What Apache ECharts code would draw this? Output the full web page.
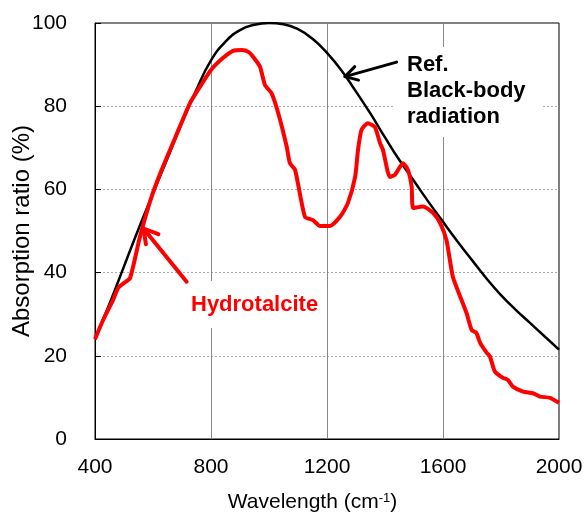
<!DOCTYPE html>
<html>
<head>
<meta charset="utf-8">
<script src="https://cdn.jsdelivr.net/npm/echarts@6/dist/echarts.min.js"></script>
<style>
  html, body { margin: 0; padding: 0; background: #fff; }
  #chart { width: 586px; height: 517px; }
</style>
</head>
<body>
<div id="chart"></div>
<script>
// reference black-body curve, read every 50 cm-1
var bbWave = [400, 450, 500, 550, 600, 650, 700, 750, 800, 850, 900, 950, 1000,
  1050, 1100, 1150, 1200, 1250, 1300, 1350, 1400, 1450, 1500, 1550, 1600,
  1650, 1700, 1750, 1800, 1850, 1900, 1950, 2000];
var bbValue = [24, 32.5, 41.5, 50.5, 59, 67.5, 76, 84, 91, 95.5, 98.3, 99.6, 100,
  99.7, 98.5, 96.2, 92.8, 88.6, 83.5, 78.2, 72.5, 67, 62, 57, 52.2,
  47.5, 43, 38.6, 34.6, 31.1, 27.9, 24.7, 21.5];

// hydrotalcite measured curve
var htWave = [400, 428, 462, 480, 500, 521, 555, 595, 630, 680, 728, 765, 800, 840, 876,
  906, 930, 945, 969, 986, 1009, 1032, 1061, 1072, 1090, 1124, 1152, 1176, 1210,
  1245, 1272, 1297, 1307, 1319, 1341, 1365, 1383, 1393, 1417, 1434, 1462, 1479,
  1492, 1497, 1531, 1566, 1590, 1612, 1634, 1664, 1681, 1699, 1715, 1728, 1751,
  1762, 1779, 1807, 1824, 1841, 1876, 1910, 1934, 1969, 2000];
var htValue = [24, 28.6, 33.4, 36.3, 37.5, 38.7, 48.6, 58.2, 64.7, 73, 80.8, 85, 88.7, 91.5, 93.3,
  93.5, 93, 91.9, 89.5, 85.1, 83.1, 78.3, 70.3, 66.3, 64.7, 53.4, 52.6, 51.2, 51.2,
  53.4, 56.7, 63, 69.5, 74.3, 75.9, 75, 71.1, 69.5, 63, 63.5, 66.3, 64.7,
  60.6, 55.5, 55.9, 54.3, 51.9, 47.8, 39, 33.4, 30.3, 26.2, 25.5, 23.1, 20.7,
  19.8, 16.2, 14.7, 14.2, 12.6, 11.4, 11, 10.2, 9.9, 8.7];

var xTicks = [400, 800, 1200, 1600, 2000];
var yTicks = [0, 20, 40, 60, 80, 100];

// arrow ends in data units: [tail, head]
var bbArrow = [[1440, 90.6], [1262, 87.1]];
var htArrow = [[716, 37.8], [567, 50.6]];

var font = 'Liberation Sans, Arial, sans-serif';

function pairs(xs, ys) {
  return xs.map(function (x, i) { return [x, ys[i]]; });
}
function plain(v) { return String(v); }

var chart = echarts.init(document.getElementById('chart'));
chart.setOption({
  animation: false,
  backgroundColor: '#fff',
  grid: {
    left: 95, right: 27, top: 23, bottom: 78,
    containLabel: false, outerBoundsMode: 'none',
    show: true, borderColor: '#000', borderWidth: 1
  },
  xAxis: {
    type: 'value',
    min: xTicks[0], max: xTicks[xTicks.length - 1], interval: 400,
    name: 'Wavelength (cm{sup|-1})',
    nameLocation: 'middle',
    nameGap: 53,
    nameMoveOverlap: false,
    nameTextStyle: {
      fontFamily: font, fontSize: 21, color: '#000', padding: [0, 29, 0, 0],
      rich: { sup: { fontFamily: font, fontSize: 13, color: '#000', verticalAlign: 'top', padding: [0, 0, 8, 0] } }
    },
    axisLine: { lineStyle: { color: '#000', width: 1 } },
    axisTick: { show: false },
    axisLabel: { fontFamily: font, fontSize: 21, color: '#000', margin: 18, formatter: plain },
    splitLine: { show: true, showMinLine: false, showMaxLine: false, lineStyle: { color: '#888', width: 1 } }
  },
  yAxis: {
    type: 'value',
    min: yTicks[0], max: yTicks[yTicks.length - 1], interval: 20,
    name: 'Absorption ratio (%)',
    nameLocation: 'middle',
    nameGap: 61,
    nameMoveOverlap: false,
    nameTextStyle: { fontFamily: font, fontSize: 24, color: '#000' },
    axisLine: { show: true, lineStyle: { color: '#000', width: 1 } },
    axisTick: { show: true, inside: true, length: 6, lineStyle: { color: '#000' } },
    axisLabel: { fontFamily: font, fontSize: 21, color: '#000', margin: 28, formatter: plain },
    splitLine: { show: true, showMinLine: false, showMaxLine: false, lineStyle: { color: '#aaa', width: 1, type: [2, 2] } }
  },
  series: [
    {
      name: 'Ref. Black-body radiation',
      type: 'line',
      data: pairs(bbWave, bbValue),
      smooth: true,
      showSymbol: false,
      lineStyle: { color: '#000', width: 2.5 },
      z: 2
    },
    {
      name: 'Hydrotalcite',
      type: 'line',
      data: pairs(htWave, htValue),
      smooth: 0.2,
      showSymbol: false,
      lineStyle: { color: '#ff0000', width: 4 },
      z: 3
    }
  ]
});

// open chevron arrow from tail to head, in pixels
function arrow(ends, color, width, len) {
  var t = chart.convertToPixel({ gridIndex: 0 }, ends[0]);
  var h = chart.convertToPixel({ gridIndex: 0 }, ends[1]);
  var dx = h[0] - t[0], dy = h[1] - t[1];
  var d = Math.sqrt(dx * dx + dy * dy);
  var ux = dx / d, uy = dy / d;
  var a = Math.PI / 6;
  function barb(s) {
    var c = Math.cos(s * a), sn = Math.sin(s * a);
    var rx = ux * c - uy * sn, ry = ux * sn + uy * c;
    return [h[0] - rx * len, h[1] - ry * len];
  }
  var style = { stroke: color, lineWidth: width, fill: null, lineCap: 'round', lineJoin: 'round' };
  return [
    { type: 'polyline', z: 20, shape: { points: [t, h] }, style: style },
    { type: 'polyline', z: 20, shape: { points: [barb(1), h, barb(-1)] }, style: style }
  ];
}

var graphics = [
  {
    type: 'text', left: 393, top: 47, z: 10,
    style: {
      text: 'Ref.\nBlack-body\nradiation',
      font: 'bold 22px ' + font, fill: '#000', lineHeight: 26,
      backgroundColor: '#fff', padding: [5, 17, 7, 14]
    }
  },
  {
    type: 'text', left: 184, top: 281, z: 10,
    style: {
      text: 'Hydrotalcite',
      font: 'bold 22px ' + font, fill: '#ff0000', lineHeight: 26,
      backgroundColor: '#fff', padding: [11, 8, 10, 7]
    }
  }
].concat(arrow(bbArrow, '#000', 3, 14), arrow(htArrow, '#ff0000', 4, 16));

chart.setOption({ graphic: graphics });
</script>
</body>
</html>
